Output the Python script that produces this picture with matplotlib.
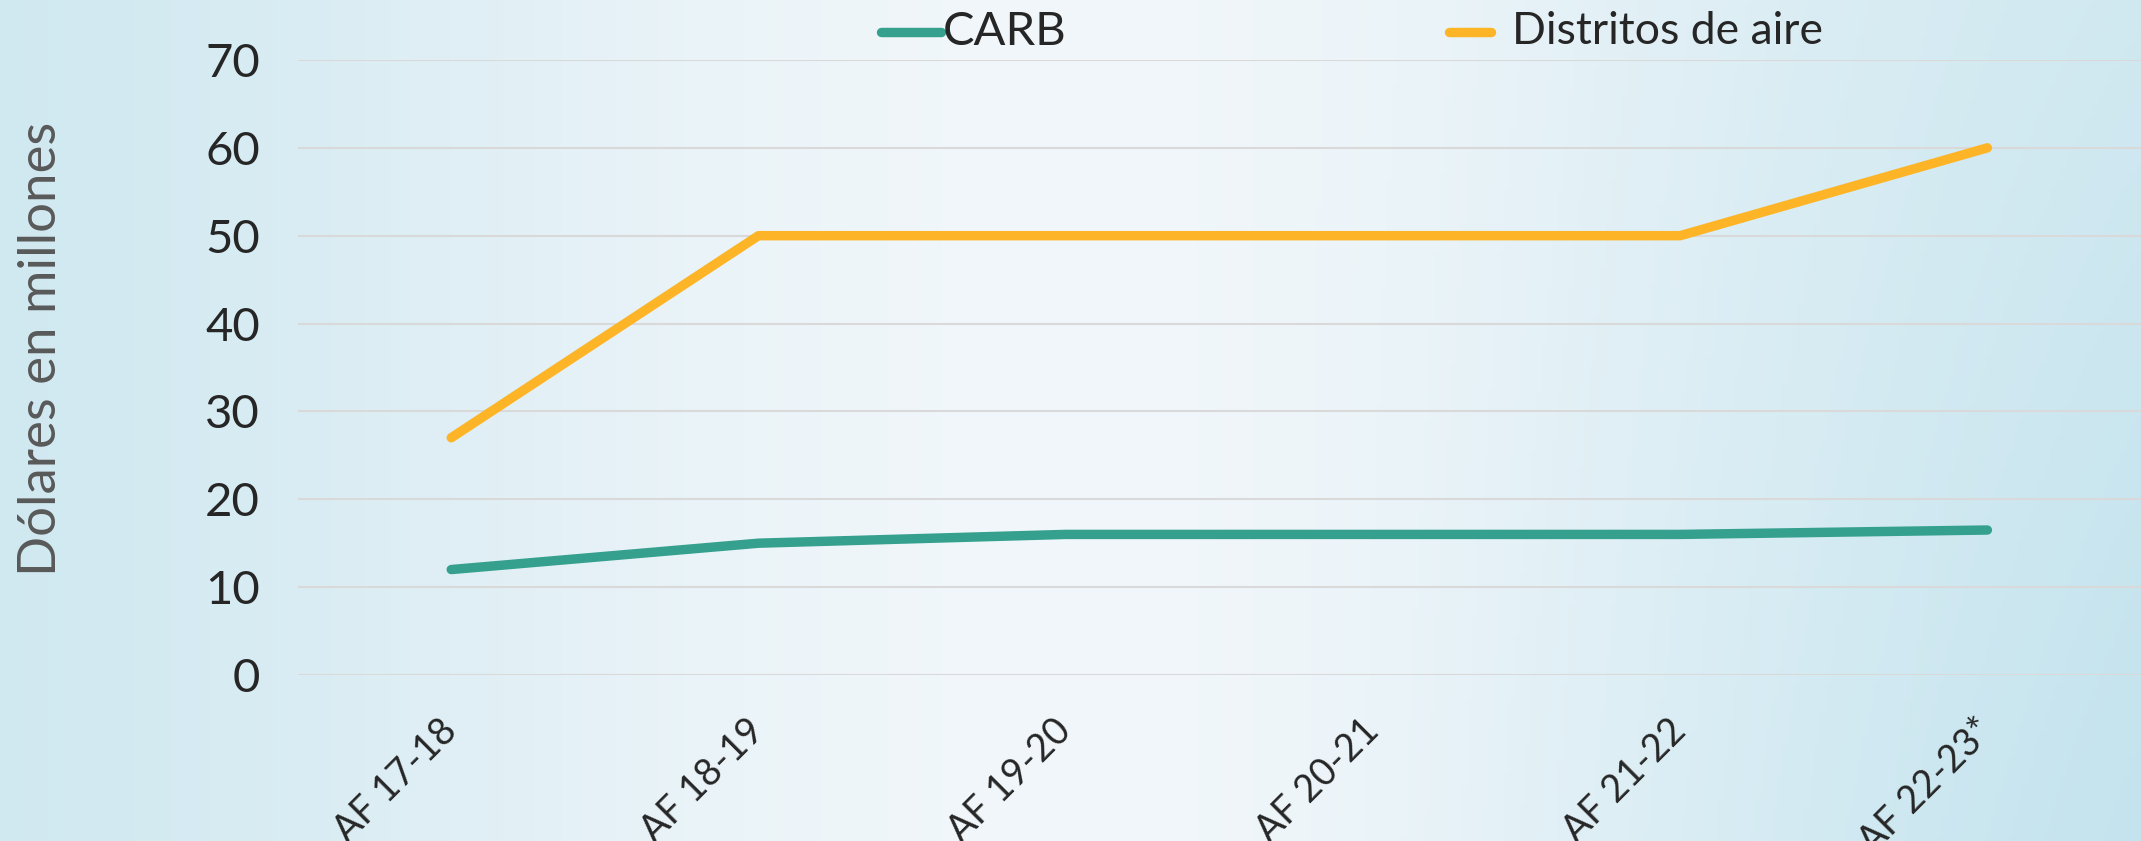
import numpy as np
import matplotlib.pyplot as plt
from matplotlib.lines import Line2D

plt.rcParams['font.family'] = ['Lato', 'DejaVu Sans']

years = ['AF 17-18', 'AF 18-19', 'AF 19-20', 'AF 20-21', 'AF 21-22', 'AF 22-23*']
carb = [12, 15, 16, 16, 16, 16.5]
distritos = [27, 50, 50, 50, 50, 60]

teal = '#35A08E'
orange = '#FDB527'

fig = plt.figure(figsize=(21.41, 8.41), dpi=100)

# soft blue background, lighter in the middle
bg = fig.add_axes([0, 0, 1, 1], zorder=-10)
xs = np.linspace(0, 1, 400)
ys = np.linspace(0, 1, 160)
X, Y = np.meshgrid(xs, ys)
w = np.exp(-((X - 0.5) / 0.38) ** 2)          # 1 in the middle, 0 at edges
edge = np.array([0.79, 0.90, 0.935])
mid = np.array([0.945, 0.967, 0.982])
img = edge[None, None, :] * (1 - w[..., None]) + mid[None, None, :] * w[..., None]
# a bit bluer at the bottom right
br = np.clip((X - 0.6) / 0.4, 0, 1) * Y
img = img - br[..., None] * np.array([0.05, 0.02, 0.01])
bg.imshow(img, aspect='auto', extent=[0, 1, 0, 1], origin='upper')
bg.axis('off')

ax = fig.add_axes([0.139, 0.1974, 0.861, 0.7313])
ax.patch.set_alpha(0)
x = np.arange(len(years))
ax.plot(x, distritos, color=orange, lw=6.8, solid_capstyle='round', solid_joinstyle='round', zorder=3)
ax.plot(x, carb, color=teal, lw=6.8, solid_capstyle='round', solid_joinstyle='round', zorder=3)

ax.set_xlim(-0.5, 5.5)
ax.set_ylim(0, 70)
ax.set_yticks(range(0, 71, 10))
ax.set_xticks(x)
ax.set_xticklabels(years, rotation=45, ha='right', va='center', rotation_mode='anchor')
ax.grid(axis='y', color='#D9D9D9', lw=1.5)
ax.set_axisbelow(True)
for s in ax.spines.values():
    s.set_visible(False)
ax.tick_params(axis='y', length=0, pad=27, labelsize=34, labelcolor='#262626')
ax.tick_params(axis='x', length=0, pad=36, labelsize=27, labelcolor='#262626')

ax.set_ylabel('Dólares en millones', fontsize=38, color='#595959')
ax.yaxis.set_label_coords(-0.126, 0.53)

# legend drawn by hand so the two keys sit where they are in the original
ly = 1 - 32 / 841
fig.add_artist(Line2D([881 / 2141, 941 / 2141], [ly, ly], color=teal, lw=6.8,
                      solid_capstyle='round', transform=fig.transFigure))
fig.text(943 / 2141, ly, 'CARB', fontsize=34, color='#262626', va='center', ha='left')
fig.add_artist(Line2D([1449 / 2141, 1491 / 2141], [ly, ly], color=orange, lw=6.8,
                      solid_capstyle='round', transform=fig.transFigure))
fig.text(1512 / 2141, ly, 'Distritos de aire', fontsize=32, color='#262626', va='center', ha='left')

fig.savefig('out.png', dpi=100)
